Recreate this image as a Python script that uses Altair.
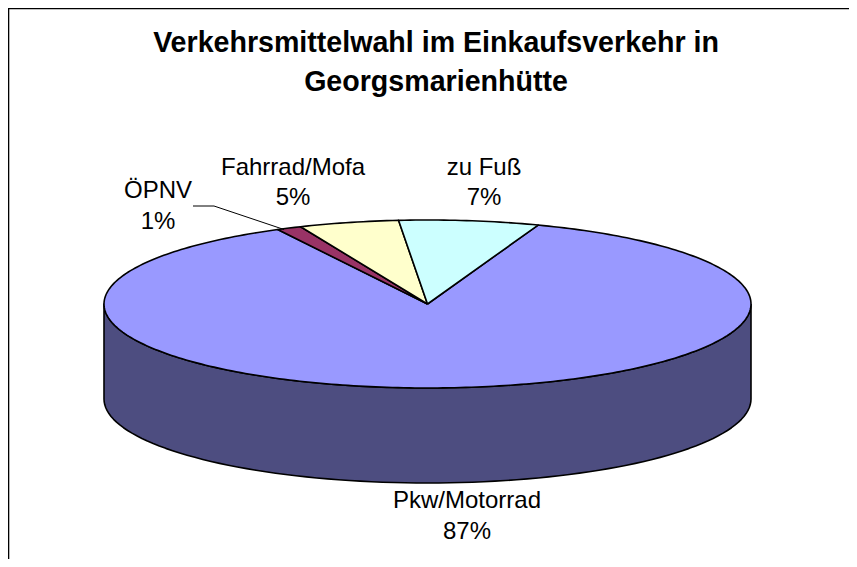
import math
import altair as alt
import pandas as pd

categories = ["Pkw/Motorrad", "ÖPNV", "Fahrrad/Mofa", "zu Fuß"]
shares = [87, 1.25, 5, 7]
labels = ["87%", "1%", "5%", "7%"]
colors = ["#9999FF", "#993366", "#FFFFCC", "#CCFFFF"]
side_color = "#4D4D80"
title_lines = ["Verkehrsmittelwahl im Einkaufsverkehr in", "Georgsmarienhütte"]

W, H = 857, 567
CX, CY, RX, RY, DEPTH = 427.5, 304, 323.5, 84, 95
START = 20.0  # degrees clockwise from the back of the pie

xs = alt.Scale(domain=[8, W - 8], range=[0, W - 16])
ys = alt.Scale(domain=[8, H - 8], range=[0, H - 16])
X = alt.X("x:Q", scale=xs, axis=None)
Y = alt.Y("y:Q", scale=ys, axis=None)


def ell(deg, dy=0):
    t = math.radians(deg)
    return CX + RX * math.sin(t), CY - RY * math.cos(t) + dy


def poly(points, fill, sw=1.6):
    df = pd.DataFrame([{"x": p[0], "y": p[1], "i": i} for i, p in enumerate(points)])
    return alt.Chart(df).mark_line(fill=fill, stroke="#000000", strokeWidth=sw,
                                   strokeJoin="round", clip=False).encode(
        x=X, y=Y, order="i:Q")


layers = []

# frame (left and top edges are the visible ones)
frame = [(8.5, H + 5), (8.5, 8.5), (W + 5, 8.5), (W + 5, H + 5), (8.5, H + 5)]
layers.append(poly(frame, "#FFFFFF", 1.6))

# rim of the pie
front = [ell(90 + a) for a in range(0, 181, 2)]
rim = front + [ell(270 - a, DEPTH) for a in range(0, 181, 2)]
rim.append(rim[0])
layers.append(poly(rim, side_color))

# top slices, clockwise
total = sum(shares)
a0 = START
for share, col in zip(shares, colors):
    sweep = share / total * 360
    n = max(2, int(sweep))
    arc = [ell(a0 + sweep * k / n) for k in range(n + 1)]
    layers.append(poly([(CX, CY)] + arc + [(CX, CY)], col))
    a0 += sweep

# leader line for ÖPNV
lead = pd.DataFrame({"x": [193, 214, 284], "y": [206, 206, 229.5], "i": [0, 1, 2]})
layers.append(alt.Chart(lead).mark_line(color="#000000", strokeWidth=1).encode(
    x=X, y=Y, order="i:Q"))

# texts
t = pd.DataFrame({
    "x": [436, 436],
    "y": [52, 91],
    "s": title_lines,
})
layers.append(alt.Chart(t).mark_text(font="Liberation Sans", fontWeight="bold", fontSize=28.6,
                                     align="center", baseline="alphabetic", color="#000000").encode(
    x=X, y=Y, text="s:N"))

lab = pd.DataFrame({
    "x": [467, 467, 158, 158, 293, 293, 484, 484],
    "y": [508, 539, 198, 229, 175, 205, 175, 205],
    "s": [categories[0], labels[0], categories[1], labels[1],
          categories[2], labels[2], categories[3], labels[3]],
})
layers.append(alt.Chart(lab).mark_text(font="Liberation Sans", fontSize=24,
                                       align="center", baseline="alphabetic", color="#000000").encode(
    x=X, y=Y, text="s:N"))

chart = alt.layer(*layers).properties(
    width=W - 16, height=H - 16, padding=0,
    autosize=alt.AutoSizeParams(type="none"),
).configure_view(stroke=None)

chart.save("out.html", embed_options={"renderer": "svg", "actions": False})
